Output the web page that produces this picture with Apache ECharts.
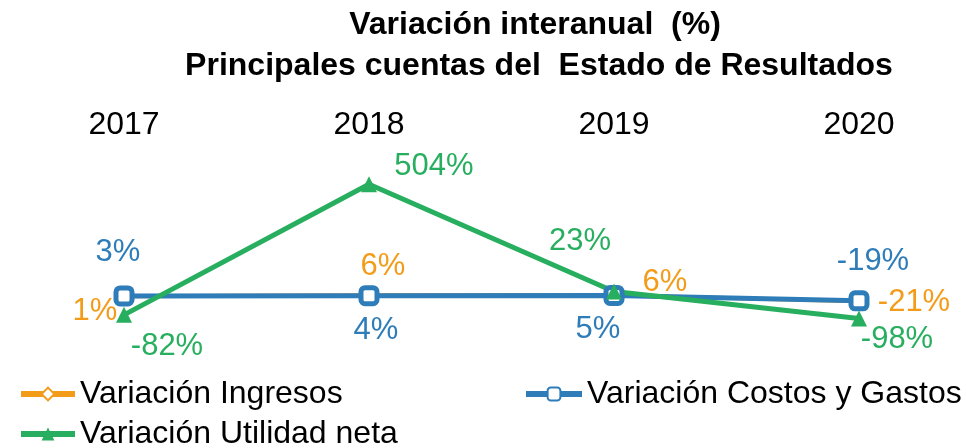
<!DOCTYPE html>
<html>
<head>
<meta charset="utf-8">
<script src="https://cdn.jsdelivr.net/npm/echarts@6/dist/echarts.min.js"></script>
<style>
  html, body { margin: 0; padding: 0; background: #fff; }
  #chart-container { width: 966px; height: 448px; }
</style>
</head>
<body>
<div id="chart-container"></div>
<script>
var years = ['2017', '2018', '2019', '2020'];
var ingresos = [1, 6, 6, -21];
var costos = [3, 4, 5, -19];
var utilidad = [-82, 504, 23, -98];

// label offsets (px) from each point, per series
var offIngresos = [[-29, 15], [14, -29], [51, -13], [55, 1]];
var offCostos = [[-6, -43], [7, 35], [-16, 34], [14, -39]];
var offUtilidad = [[43, 32], [65, -18], [-34, -50], [38, 21]];

var fontFam = '"Liberation Sans", Arial, sans-serif';
var orange = '#F39C1A';
var blue = '#2E7DB9';
var green = '#28AE5F';

var dom = document.getElementById('chart-container');
var myChart = echarts.init(dom, null, { renderer: 'canvas' });

function withLabels(values, offsets, color) {
    return values.map(function (v, i) {
        return {
            value: v,
            label: {
                show: true,
                position: 'inside',
                offset: offsets[i],
                color: color,
                fontSize: 31,
                fontFamily: fontFam,
                formatter: '{c}%'
            }
        };
    });
}

var legendText = { fontSize: 32, color: '#000', fontFamily: fontFam };
var legendLine = { width: 6 };

var option = {
    animation: false,
    title: [
        {
            text: 'Variación interanual  (%)',
            left: 530, top: 4, textAlign: 'center',
            textStyle: { fontSize: 32, fontWeight: 'bold', color: '#000', fontFamily: fontFam }
        },
        {
            text: 'Principales cuentas del  Estado de Resultados',
            left: 534, top: 45, textAlign: 'center',
            textStyle: { fontSize: 32, fontWeight: 'bold', color: '#000', fontFamily: fontFam }
        }
    ],
    legend: [
        { data: ['Variación Ingresos'], left: 13, top: 373, itemWidth: 54, itemHeight: 16, lineStyle: legendLine, textStyle: legendText },
        { data: ['Variación Costos y Gastos'], left: 518, top: 373, itemWidth: 56, itemHeight: 16, lineStyle: legendLine, textStyle: legendText },
        { data: ['Variación Utilidad neta'], left: 13, top: 413, itemWidth: 54, itemHeight: 16, lineStyle: legendLine, textStyle: legendText }
    ],
    grid: { left: 124, right: 107, top: 174, bottom: 118 },
    xAxis: {
        type: 'category',
        position: 'top',
        boundaryGap: false,
        data: years,
        axisLine: { show: false },
        axisTick: { show: false },
        axisLabel: { fontSize: 32, color: '#000', fontFamily: fontFam, margin: 33 }
    },
    yAxis: {
        type: 'value',
        min: -150,
        max: 550,
        show: false,
        splitLine: { show: false }
    },
    series: [
        {
            name: 'Variación Ingresos',
            type: 'line',
            data: withLabels(ingresos, offIngresos, orange),
            symbol: 'diamond',
            symbolSize: 14,
            lineStyle: { color: orange, width: 4 },
            itemStyle: { color: '#fff', borderColor: orange, borderWidth: 4 }
        },
        {
            name: 'Variación Costos y Gastos',
            type: 'line',
            data: withLabels(costos, offCostos, blue),
            symbol: 'roundRect',
            symbolSize: 16,
            lineStyle: { color: blue, width: 5 },
            itemStyle: { color: '#fff', borderColor: blue, borderWidth: 5 }
        },
        {
            name: 'Variación Utilidad neta',
            type: 'line',
            data: withLabels(utilidad, offUtilidad, green),
            symbol: 'triangle',
            symbolSize: 16,
            lineStyle: { color: green, width: 5 },
            itemStyle: { color: green }
        }
    ]
};

myChart.setOption(option);
window.addEventListener('resize', myChart.resize);
</script>
</body>
</html>
